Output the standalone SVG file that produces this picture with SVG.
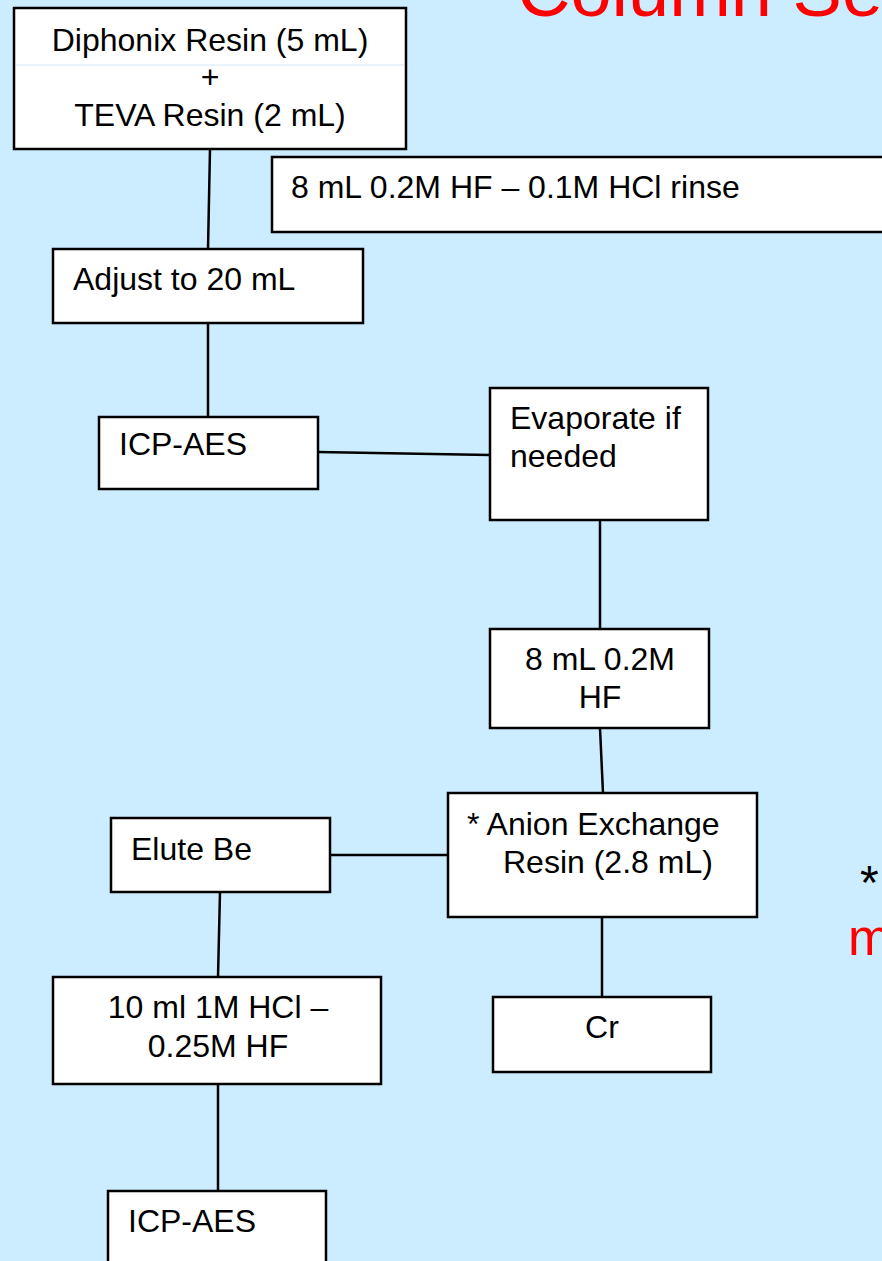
<svg xmlns="http://www.w3.org/2000/svg" width="882" height="1261" viewBox="0 0 882 1261">
  <style>
    .box { fill: #ffffff; stroke: #000000; stroke-width: 2.5; }
    .t { font-family: "Liberation Sans", Arial, sans-serif; font-size: 32px; fill: #000000; }
    .c { text-anchor: middle; }
    .conn line { stroke: #000000; stroke-width: 2.5; }
  </style>
  <rect x="0" y="0" width="882" height="1261" fill="#CCECFF"/>
  <text x="517" y="16" font-family="Liberation Sans, Arial, sans-serif" font-size="74" fill="#FF0000">Column Se</text>
  <g class="conn">
    <line x1="210" y1="149" x2="208" y2="249"/>
    <line x1="208" y1="323" x2="208" y2="417"/>
    <line x1="318" y1="452" x2="490" y2="455"/>
    <line x1="600" y1="520" x2="600" y2="629"/>
    <line x1="600" y1="728" x2="603" y2="793"/>
    <line x1="330" y1="855" x2="448" y2="855"/>
    <line x1="220" y1="892" x2="218" y2="977"/>
    <line x1="218" y1="1084" x2="218" y2="1191"/>
    <line x1="602" y1="917" x2="602" y2="997"/>
  </g>
  <g id="n-resin">
    <rect class="box" x="14" y="8" width="392" height="141"/>
    <line x1="16" y1="65" x2="404" y2="65" stroke="#d4e9f5" stroke-width="1"/>
    <text class="t c" x="210" y="51">Diphonix Resin (5 mL)</text>
    <text class="t c" x="210" y="88">+</text>
    <text class="t c" x="210" y="126">TEVA Resin (2 mL)</text>
  </g>
  <g id="n-rinse">
    <rect class="box" x="272" y="157" width="630" height="75"/>
    <text class="t" x="291" y="198">8 mL 0.2M HF – 0.1M HCl rinse</text>
  </g>
  <g id="n-adjust">
    <rect class="box" x="53" y="249" width="310" height="74"/>
    <text class="t" x="73" y="290">Adjust to 20 mL</text>
  </g>
  <g id="n-icp1">
    <rect class="box" x="99" y="417" width="219" height="72"/>
    <text class="t" x="119" y="455">ICP-AES</text>
  </g>
  <g id="n-evap">
    <rect class="box" x="490" y="388" width="218" height="132"/>
    <text class="t" x="510" y="429">Evaporate if</text>
    <text class="t" x="510" y="467">needed</text>
  </g>
  <g id="n-hf">
    <rect class="box" x="490" y="629" width="219" height="99"/>
    <text class="t c" x="600" y="670">8 mL 0.2M</text>
    <text class="t c" x="600" y="708">HF</text>
  </g>
  <g id="n-anion">
    <rect class="box" x="448" y="793" width="309" height="124"/>
    <text class="t" x="467" y="835">* Anion Exchange</text>
    <text class="t" x="503" y="873">Resin (2.8 mL)</text>
  </g>
  <g id="n-elute">
    <rect class="box" x="111" y="818" width="219" height="74"/>
    <text class="t" x="131" y="860">Elute Be</text>
  </g>
  <g id="n-hcl">
    <rect class="box" x="53" y="977" width="328" height="107"/>
    <text class="t c" x="218" y="1018">10 ml 1M HCl –</text>
    <text class="t c" x="218" y="1057">0.25M HF</text>
  </g>
  <g id="n-icp2">
    <rect class="box" x="108" y="1191" width="218" height="100"/>
    <text class="t" x="128" y="1232">ICP-AES</text>
  </g>
  <g id="n-cr">
    <rect class="box" x="493" y="997" width="218" height="75"/>
    <text class="t c" x="602" y="1038">Cr</text>
  </g>
  <text x="860" y="899" font-family="Liberation Sans, Arial, sans-serif" font-size="48" fill="#000000">*</text>
  <text x="848" y="955" font-family="Liberation Sans, Arial, sans-serif" font-size="52" fill="#FF0000">m</text>
</svg>
